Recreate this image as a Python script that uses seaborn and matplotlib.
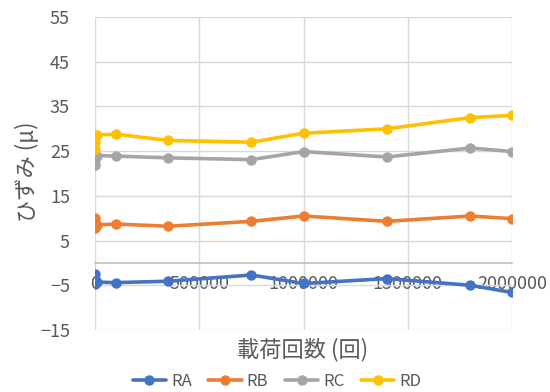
import numpy as np
import pandas as pd
import matplotlib
matplotlib.use("Agg")
import matplotlib.pyplot as plt
import seaborn as sns

# load cycles (x) and strain readings for each gauge
cycles = [0, 100, 1000, 10000, 100000, 350000, 750000, 1000000, 1400000, 1800000, 2000000]
ra = [-4.8, -2.5, -3.5, -4.3, -4.4, -4.1, -2.7, -4.6, -3.5, -5.0, -6.6]
rb = [7.8, 10.0, 9.2, 8.5, 8.7, 8.2, 9.3, 10.5, 9.3, 10.5, 9.9]
rc = [22.0, 23.0, 23.8, 24.0, 23.9, 23.5, 23.1, 24.9, 23.7, 25.7, 24.9]
rd = [25.5, 27.0, 28.3, 28.6, 28.8, 27.4, 27.0, 29.0, 30.0, 32.5, 33.0]
series_names = ["RA", "RB", "RC", "RD"]
colors = ["#4472C4", "#ED7D31", "#A5A5A5", "#FFC000"]
y_ticks = [-15, -5, 5, 15, 25, 35, 45, 55]
x_ticks = [0, 500000, 1000000, 1500000, 2000000]

frames = []
for name, vals in zip(series_names, [ra, rb, rc, rd]):
    frames.append(pd.DataFrame({"cycles": cycles, "strain": vals, "series": name}))
df = pd.concat(frames, ignore_index=True)

sns.set_style("white")
plt.rcParams["font.family"] = ["Noto Sans CJK JP", "DejaVu Sans"]

fig = plt.figure(figsize=(5.5, 3.92), dpi=100)
ax = fig.add_axes([95 / 550, 1 - 330 / 392, (512 - 95) / 550, (330 - 17) / 392])

sns.lineplot(data=df, x="cycles", y="strain", hue="series", palette=colors,
             marker="o", markersize=7.5, markeredgewidth=0, linewidth=2.6,
             estimator=None, sort=False, ax=ax, legend=True)

ax.set_xlim(0, 2000000)
ax.set_ylim(-15, 55)
ax.set_yticks(y_ticks)
ax.set_xticks(x_ticks)
ax.set_xticklabels([str(t) for t in x_ticks])
ax.grid(True, color="#d9d9d9", linewidth=1)
ax.set_axisbelow(True)
for side in ["top", "right", "left"]:
    ax.spines[side].set_visible(False)
ax.spines["bottom"].set_position(("data", 0))
ax.spines["bottom"].set_color("#bfbfbf")
ax.spines["bottom"].set_linewidth(1.2)
ax.tick_params(axis="both", length=0, labelsize=13, labelcolor="#595959")
ax.tick_params(axis="y", pad=18)
ax.tick_params(axis="x", pad=9)
ax.set_xlabel("")
ax.set_ylabel("")

fig.text(27 / 550, 1 - 172 / 392, "ひずみ (μ)", fontsize=16, color="#595959",
         ha="center", va="center", rotation=90)
fig.text(303 / 550, 1 - 350 / 392, "載荷回数 (回)", fontsize=16, color="#595959",
         ha="center", va="center")

handles, labels = ax.get_legend_handles_labels()
ax.legend(handles, labels, loc="center", bbox_to_anchor=(277 / 550, 1 - 381 / 392),
          bbox_transform=fig.transFigure, ncol=4, frameon=False, fontsize=12,
          handlelength=2.0, columnspacing=1.0, handletextpad=0.3,
          labelcolor="#595959")

fig.savefig("out.png", dpi=100)
